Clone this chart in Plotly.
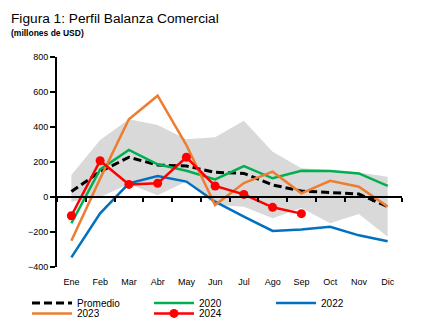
import plotly.graph_objects as go

months = ["Ene", "Feb", "Mar", "Abr", "May", "Jun", "Jul", "Ago", "Sep", "Oct", "Nov", "Dic"]
promedio = [31, 145, 227, 183, 177, 141, 135, 69, 34, 25, 17, -55]
s2020 = [-150, 158, 269, 187, 150, 101, 177, 107, 150, 148, 135, 63]
s2022 = [-345, -93, 78, 120, 88, -27, -112, -194, -185, -170, -219, -253]
s2023 = [-250, 105, 444, 579, 297, -46, 80, 145, 21, 93, 59, -55]
s2024 = [-107, 207, 72, 78, 227, 63, 15, -59, -95]
band_upper = [126, 326, 444, 411, 330, 341, 436, 259, 164, 155, 140, 116]
band_lower = [-27, 0, 75, 10, 88, -46, -55, -122, -63, -150, -97, -227]
y_ticks = [-400, -200, 0, 200, 400, 600, 800]

FONT = "Liberation Sans, Arial, sans-serif"

fig = go.Figure()
fig.add_trace(go.Scatter(x=months, y=band_lower, mode="lines", line=dict(width=0),
                         showlegend=False, hoverinfo="skip"))
fig.add_trace(go.Scatter(x=months, y=band_upper, mode="lines", line=dict(width=0),
                         fill="tonexty", fillcolor="#D9D9D9", showlegend=False, hoverinfo="skip"))

fig.add_trace(go.Scatter(x=months, y=promedio, name="Promedio", mode="lines",
                         line=dict(color="black", width=3, dash="8px,4px"), legend="legend"))
fig.add_trace(go.Scatter(x=months, y=s2020, name="2020", mode="lines",
                         line=dict(color="#00B050", width=2.5), legend="legend2"))
fig.add_trace(go.Scatter(x=months, y=s2022, name="2022", mode="lines",
                         line=dict(color="#0070C0", width=2.5), legend="legend3"))
fig.add_trace(go.Scatter(x=months, y=s2023, name="2023", mode="lines",
                         line=dict(color="#ED7D31", width=2.5), legend="legend4"))
fig.add_trace(go.Scatter(x=months[:len(s2024)], y=s2024, name="2024", mode="lines+markers",
                         line=dict(color="#FF0000", width=2.5),
                         marker=dict(color="#FF0000", size=9), legend="legend5"))
# invisible trace for the zero-crossing axis with boundary ticks
fig.add_trace(go.Scatter(x=months, y=[0] * len(months), xaxis="x2", mode="lines",
                         line=dict(width=0), showlegend=False, hoverinfo="skip"))

legend_common = dict(orientation="h", xanchor="left", yanchor="middle",
                     font=dict(family=FONT, size=10, color="black"),
                     itemwidth=40, bgcolor="rgba(0,0,0,0)", borderwidth=0)

row1, row2 = -0.172, -0.221
col1, col2, col3 = -0.087, 0.2667, 0.6203

fig.update_layout(
    width=424, height=327,
    margin=dict(l=57, r=22, t=57, b=60, autoexpand=False),
    paper_bgcolor="white", plot_bgcolor="white",
    font=dict(family=FONT, size=9, color="black"),
    xaxis=dict(type="category", range=[-0.5, 11.5], showgrid=False, showline=False,
               ticks="", tickfont=dict(size=9), zeroline=False, ticklabelstandoff=8),
    xaxis2=dict(type="category", matches="x", overlaying="x", anchor="free",
                position=400 / 1200, showline=True, linecolor="black", linewidth=2,
                ticks="outside", tickson="boundaries", ticklen=4, tickwidth=1.5,
                tickcolor="black", showticklabels=False, showgrid=False),
    yaxis=dict(range=[-400, 800], tickvals=y_ticks, showgrid=False, zeroline=False,
               showline=True, linecolor="black", linewidth=2, ticks="outside",
               ticklen=5, tickwidth=1.5, tickcolor="black", tickfont=dict(size=9)),
    legend=dict(x=col1, y=row1, **legend_common),
    legend2=dict(x=col2, y=row1, **legend_common),
    legend3=dict(x=col3, y=row1, **legend_common),
    legend4=dict(x=col1, y=row2, **legend_common),
    legend5=dict(x=col2, y=row2, **legend_common),
    annotations=[
        dict(text="Figura 1: Perfil Balanza Comercial", xref="paper", yref="paper",
             x=-0.139, y=1.181, xanchor="left", yanchor="middle", showarrow=False,
             font=dict(family=FONT, size=13.7, color="black")),
        dict(text="<b>(millones de USD)</b>", xref="paper", yref="paper",
             x=-0.139, y=1.114, xanchor="left", yanchor="middle", showarrow=False,
             font=dict(family=FONT, size=8.5, color="black")),
    ],
)

fig.write_html("out.html")
